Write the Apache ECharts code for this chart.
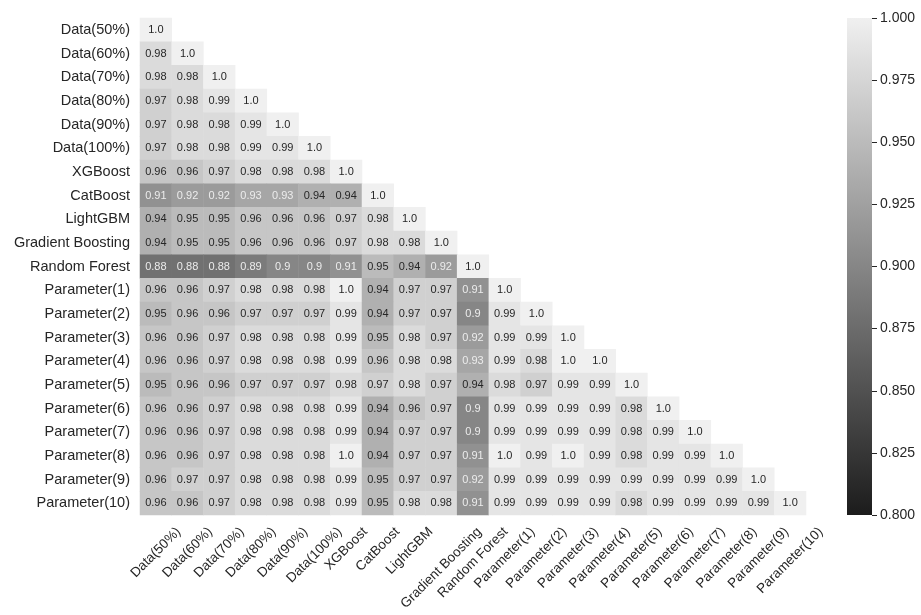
<!DOCTYPE html>
<html>
<head>
<meta charset="utf-8">
<script src="https://cdn.jsdelivr.net/npm/echarts@6/dist/echarts.min.js"></script>
<style>
  html, body { margin: 0; padding: 0; background: #ffffff; }
  #chart { width: 921px; height: 615px; }
</style>
</head>
<body>
<div id="chart"></div>
<script>
// Model / setting names, shared by both axes
const labels = [
  'Data(50%)', 'Data(60%)', 'Data(70%)', 'Data(80%)', 'Data(90%)', 'Data(100%)',
  'XGBoost', 'CatBoost', 'LightGBM', 'Gradient Boosting', 'Random Forest',
  'Parameter(1)', 'Parameter(2)', 'Parameter(3)', 'Parameter(4)', 'Parameter(5)',
  'Parameter(6)', 'Parameter(7)', 'Parameter(8)', 'Parameter(9)', 'Parameter(10)'
];

// Lower-triangle correlation rows (row i holds columns 0..i)
const rowData50   = [1.0];
const rowData60   = [0.98, 1.0];
const rowData70   = [0.98, 0.98, 1.0];
const rowData80   = [0.97, 0.98, 0.99, 1.0];
const rowData90   = [0.97, 0.98, 0.98, 0.99, 1.0];
const rowData100  = [0.97, 0.98, 0.98, 0.99, 0.99, 1.0];
const rowXGBoost  = [0.96, 0.96, 0.97, 0.98, 0.98, 0.98, 1.0];
const rowCatBoost = [0.91, 0.92, 0.92, 0.93, 0.93, 0.94, 0.94, 1.0];
const rowLightGBM = [0.94, 0.95, 0.95, 0.96, 0.96, 0.96, 0.97, 0.98, 1.0];
const rowGradBoost = [0.94, 0.95, 0.95, 0.96, 0.96, 0.96, 0.97, 0.98, 0.98, 1.0];
const rowRandForest = [0.88, 0.88, 0.88, 0.89, 0.9, 0.9, 0.91, 0.95, 0.94, 0.92, 1.0];
const rowParam1  = [0.96, 0.96, 0.97, 0.98, 0.98, 0.98, 1.0, 0.94, 0.97, 0.97, 0.91, 1.0];
const rowParam2  = [0.95, 0.96, 0.96, 0.97, 0.97, 0.97, 0.99, 0.94, 0.97, 0.97, 0.9, 0.99, 1.0];
const rowParam3  = [0.96, 0.96, 0.97, 0.98, 0.98, 0.98, 0.99, 0.95, 0.98, 0.97, 0.92, 0.99, 0.99, 1.0];
const rowParam4  = [0.96, 0.96, 0.97, 0.98, 0.98, 0.98, 0.99, 0.96, 0.98, 0.98, 0.93, 0.99, 0.98, 1.0, 1.0];
const rowParam5  = [0.95, 0.96, 0.96, 0.97, 0.97, 0.97, 0.98, 0.97, 0.98, 0.97, 0.94, 0.98, 0.97, 0.99, 0.99, 1.0];
const rowParam6  = [0.96, 0.96, 0.97, 0.98, 0.98, 0.98, 0.99, 0.94, 0.96, 0.97, 0.9, 0.99, 0.99, 0.99, 0.99, 0.98, 1.0];
const rowParam7  = [0.96, 0.96, 0.97, 0.98, 0.98, 0.98, 0.99, 0.94, 0.97, 0.97, 0.9, 0.99, 0.99, 0.99, 0.99, 0.98, 0.99, 1.0];
const rowParam8  = [0.96, 0.96, 0.97, 0.98, 0.98, 0.98, 1.0, 0.94, 0.97, 0.97, 0.91, 1.0, 0.99, 1.0, 0.99, 0.98, 0.99, 0.99, 1.0];
const rowParam9  = [0.96, 0.97, 0.97, 0.98, 0.98, 0.98, 0.99, 0.95, 0.97, 0.97, 0.92, 0.99, 0.99, 0.99, 0.99, 0.99, 0.99, 0.99, 0.99, 1.0];
const rowParam10 = [0.96, 0.96, 0.97, 0.98, 0.98, 0.98, 0.99, 0.95, 0.98, 0.98, 0.91, 0.99, 0.99, 0.99, 0.99, 0.98, 0.99, 0.99, 0.99, 0.99, 1.0];

// Colour-bar tick range
const scaleMin = 0.8;
const scaleMax = 1.0;
const scaleStep = 0.025;

const rows = [
  rowData50, rowData60, rowData70, rowData80, rowData90, rowData100,
  rowXGBoost, rowCatBoost, rowLightGBM, rowGradBoost, rowRandForest,
  rowParam1, rowParam2, rowParam3, rowParam4, rowParam5,
  rowParam6, rowParam7, rowParam8, rowParam9, rowParam10
];

const fontFamily = '"Liberation Sans", Arial, Helvetica, sans-serif';
const textDark = '#262626';
const rampDark = '#1c1c1c';
const rampLight = '#f0f0f0';
const yFontSize = 14.5;
const xFontSize = 13.5;

// Heatmap items: [column, row, value]; light text on the darker cells
const cells = [];
rows.forEach((row, r) => {
  row.forEach((v, c) => {
    cells.push({
      value: [c, r, v],
      label: { color: v < 0.935 ? '#ececec' : textDark }
    });
  });
});

const chart = echarts.init(document.getElementById('chart'), null, { renderer: 'canvas' });

chart.setOption({
  backgroundColor: '#ffffff',
  animation: false,
  grid: [
    { left: 140, top: 18, width: 666, height: 497 },
    { left: 847, top: 18, width: 25, height: 497 }
  ],
  xAxis: [
    {
      type: 'category',
      gridIndex: 0,
      data: labels,
      axisLine: { show: false },
      axisTick: { show: false },
      splitLine: { show: false },
      axisLabel: { show: false }
    },
    { type: 'value', gridIndex: 1, show: false, min: 0, max: 1 }
  ],
  yAxis: [
    {
      type: 'category',
      gridIndex: 0,
      data: labels,
      inverse: true,
      axisLine: { show: false },
      axisTick: { show: false },
      splitLine: { show: false },
      axisLabel: {
        interval: 0,
        margin: 10,
        fontSize: yFontSize,
        fontFamily: fontFamily,
        color: textDark
      }
    },
    {
      type: 'value',
      gridIndex: 1,
      position: 'right',
      min: scaleMin,
      max: scaleMax,
      interval: scaleStep,
      axisLine: { show: false, onZero: false },
      splitLine: { show: false },
      axisTick: { show: true, length: 5, lineStyle: { color: textDark, width: 1 } },
      axisLabel: {
        margin: 8,
        fontSize: 14,
        fontFamily: fontFamily,
        color: textDark,
        formatter: v => v.toFixed(3)
      }
    }
  ],
  visualMap: {
    type: 'continuous',
    show: false,
    seriesIndex: 0,
    min: scaleMin,
    max: scaleMax,
    inRange: { color: [rampDark, rampLight] }
  },
  series: [
    {
      type: 'heatmap',
      xAxisIndex: 0,
      yAxisIndex: 0,
      data: cells,
      label: {
        show: true,
        fontSize: 11,
        fontFamily: fontFamily,
        formatter: p => {
          const v = p.value[2];
          return v === 1 ? '1.0' : String(v);
        }
      },
      itemStyle: { borderWidth: 0 },
      emphasis: { disabled: true }
    }
  ]
});

// Colour bar: gradient strip spanning the value axis of the second grid
const barTop = chart.convertToPixel({ yAxisIndex: 1 }, scaleMax);
const barBottom = chart.convertToPixel({ yAxisIndex: 1 }, scaleMin);
const barLeft = chart.convertToPixel({ xAxisIndex: 1 }, 0);
const barRight = chart.convertToPixel({ xAxisIndex: 1 }, 1);

// Rotated x labels, centred under each column with their bounding boxes top-aligned
const measureCtx = document.createElement('canvas').getContext('2d');
measureCtx.font = xFontSize + 'px ' + fontFamily;
const labelTop = barBottom + 10;
const xLabelGraphics = labels.map((name) => {
  const cx = chart.convertToPixel({ xAxisIndex: 0 }, name);
  const w = measureCtx.measureText(name).width;
  const h = xFontSize;
  const cy = labelTop + (w + h) / (2 * Math.SQRT2);
  return {
    type: 'text',
    x: cx,
    y: cy,
    rotation: Math.PI / 4,
    silent: true,
    style: {
      text: name,
      font: xFontSize + 'px ' + fontFamily,
      fill: textDark,
      align: 'center',
      verticalAlign: 'middle'
    }
  };
});

chart.setOption({
  graphic: [
    {
      type: 'rect',
      silent: true,
      z: 0,
      shape: { x: barLeft, y: barTop, width: barRight - barLeft, height: barBottom - barTop },
      style: {
        fill: new echarts.graphic.LinearGradient(0, 0, 0, 1, [
          { offset: 0, color: rampLight },
          { offset: 1, color: rampDark }
        ])
      }
    }
  ].concat(xLabelGraphics)
});
</script>
</body>
</html>
